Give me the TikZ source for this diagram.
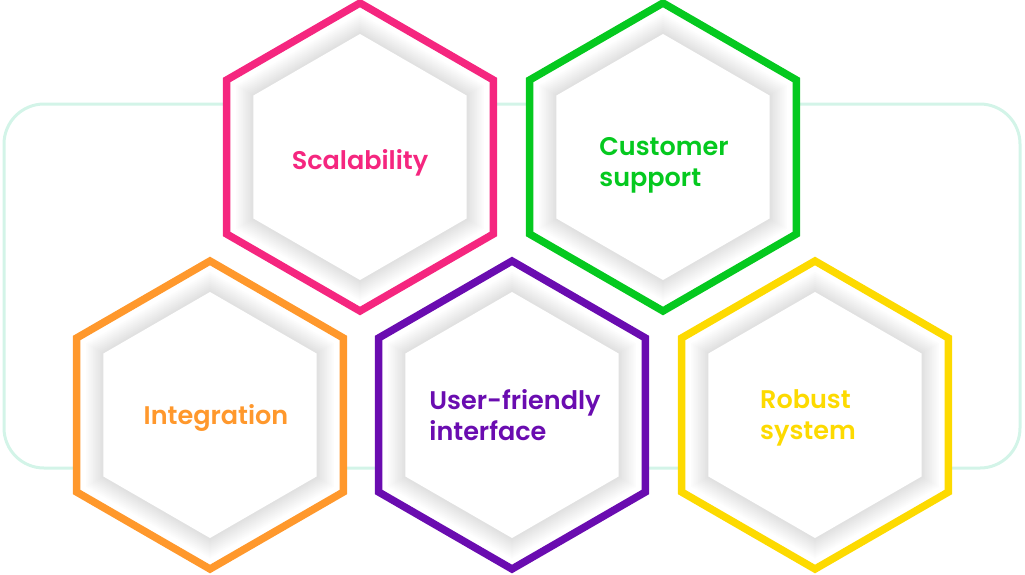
\documentclass[tikz,border=0pt]{standalone}
\usepackage{fontspec}
\setmainfont{Poppins}[BoldFont={* SemiBold}]
\usetikzlibrary{shapes.geometric}

\definecolor{pinkc}{HTML}{F5267F}
\definecolor{greenc}{HTML}{05C91F}
\definecolor{orangec}{HTML}{FF982C}
\definecolor{purplec}{HTML}{6A0CB0}
\definecolor{yellowc}{HTML}{FDDA00}
\definecolor{mintc}{HTML}{D3F4E8}

\tikzset{
  hex/.style={regular polygon, regular polygon sides=6, shape border rotate=30,
    inner sep=0pt, outer sep=0pt},
  hexring/.style={hex, minimum size=308pt, line width=7.5pt, fill=white},
  hexshade/.style={hex, minimum size=#1},
  hexinner/.style={hex, minimum size=246pt, fill=white},
  hextext/.style={font=\bfseries\fontsize{25.5}{31}\selectfont, align=left},
}

\begin{document}
\begin{tikzpicture}[x=1pt,y=-1pt]
\useasboundingbox (0,0) rectangle (1025,574);

% frame behind the cells
\draw[mintc, line width=3pt, rounded corners=40pt] (4,104) rectangle (1020,468);

% top row
\node[hexring, draw=pinkc]  (scal) at (360,157) {};
\node[hexring, draw=greenc] (cust) at (663,157) {};
% bottom row
\node[hexring, draw=orangec] (integ) at (210,415) {};
\node[hexring, draw=purplec] (user)  at (512,415) {};
\node[hexring, draw=yellowc] (robust) at (815,415) {};

% soft grey ring inside every cell
\foreach \c in {scal,cust,integ,user,robust}{
  \foreach \k [evaluate=\k as \p using 1+1.2*\k] in {0,...,9}{
    \node[hexshade={286pt-4pt*\k}, fill=black!\p] at (\c) {};
  }
  \node[hexinner] at (\c) {};
}

\node[hextext, text=pinkc]   (scal-t)   at (360,163) {Scalability};
\node[hextext, text=greenc]  (cust-t)   at (664,165) {Customer\\support};
\node[hextext, text=orangec] (integ-t)  at (216,418) {Integration};
\node[hextext, text=purplec] (user-t)   at (515,415) {User-friendly\\interface};
\node[hextext, text=yellowc] (robust-t) at (808,418) {Robust\\system};
\end{tikzpicture}
\end{document}
